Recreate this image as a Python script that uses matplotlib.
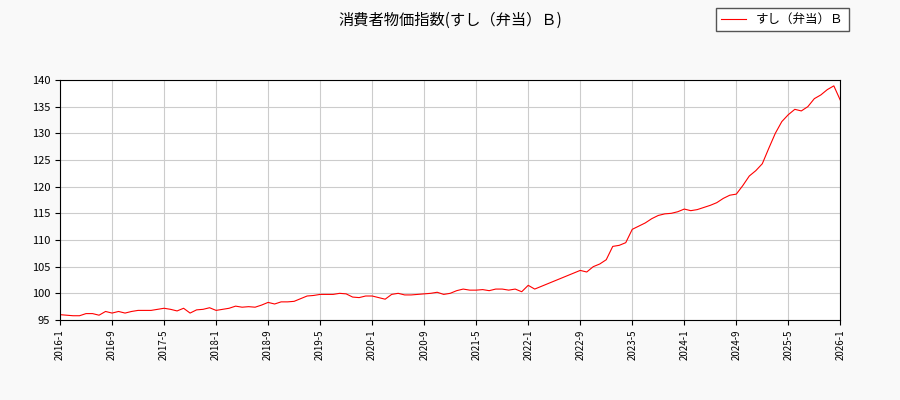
import matplotlib
matplotlib.use("Agg")
import matplotlib.pyplot as plt
import numpy as np

plt.rcParams['font.family'] = ['Noto Sans CJK JP', 'DejaVu Sans']

# monthly values, 2016-1 .. 2026-1
values = [
    96.0, 95.9, 95.8, 95.8, 96.2, 96.2, 95.9, 96.6, 96.3, 96.6, 96.3, 96.6,
    96.8, 96.8, 96.8, 97.0, 97.2, 97.0, 96.7, 97.2, 96.3, 96.9, 97.0, 97.3,
    96.8, 97.0, 97.2, 97.6, 97.4, 97.5, 97.4, 97.8, 98.3, 98.0, 98.4, 98.4,
    98.5, 99.0, 99.5, 99.6, 99.8, 99.8, 99.8, 100.0, 99.9, 99.3, 99.2, 99.5,
    99.5, 99.2, 98.9, 99.8, 100.0, 99.7, 99.7, 99.8, 99.9, 100.0, 100.2, 99.8,
    100.0, 100.5, 100.8, 100.6, 100.6, 100.7, 100.5, 100.8, 100.8, 100.6, 100.8, 100.3,
    101.5, 100.8, 101.3, 101.8, 102.3, 102.8, 103.3, 103.8, 104.3, 104.0, 105.0, 105.5,
    106.3, 108.8, 109.0, 109.5, 112.0, 112.6, 113.2, 114.0, 114.6, 114.9, 115.0, 115.3,
    115.8, 115.5, 115.7, 116.1, 116.5, 117.0, 117.8, 118.4, 118.6, 120.2, 122.0, 123.0,
    124.3, 127.2, 130.0, 132.2, 133.5, 134.5, 134.2, 135.0, 136.5, 137.2, 138.2, 138.9,
    136.2,
]
tick_labels = ["2016-1", "2016-9", "2017-5", "2018-1", "2018-9", "2019-5", "2020-1",
               "2020-9", "2021-5", "2022-1", "2022-9", "2023-5", "2024-1", "2024-9",
               "2025-5", "2026-1"]

x = np.arange(len(values))

fig = plt.figure(figsize=(9, 4), dpi=100, facecolor='#f9f9f9')
ax = fig.add_axes([0.0667, 0.2, 0.867, 0.6])
ax.plot(x, values, color='red', linewidth=0.8, label='すし（弁当）Ｂ')
ax.set_xlim(0, len(values) - 1)
ax.set_ylim(95, 140)
ax.set_yticks(range(95, 141, 5))
ax.set_xticks(np.arange(0, len(values), 8))
ax.set_xticklabels(tick_labels, rotation=90, fontsize=7)
ax.tick_params(axis='y', labelsize=8)
ax.grid(True, color='#cccccc')
ax.set_axisbelow(True)
fig.suptitle('消費者物価指数(すし（弁当）Ｂ)', y=0.97, fontsize=11)
fig.legend(loc='upper right', bbox_to_anchor=(0.95, 0.995), fontsize=9,
           fancybox=False, edgecolor='#555555', framealpha=1)

plt.savefig("out.png", dpi=100, facecolor=fig.get_facecolor())
